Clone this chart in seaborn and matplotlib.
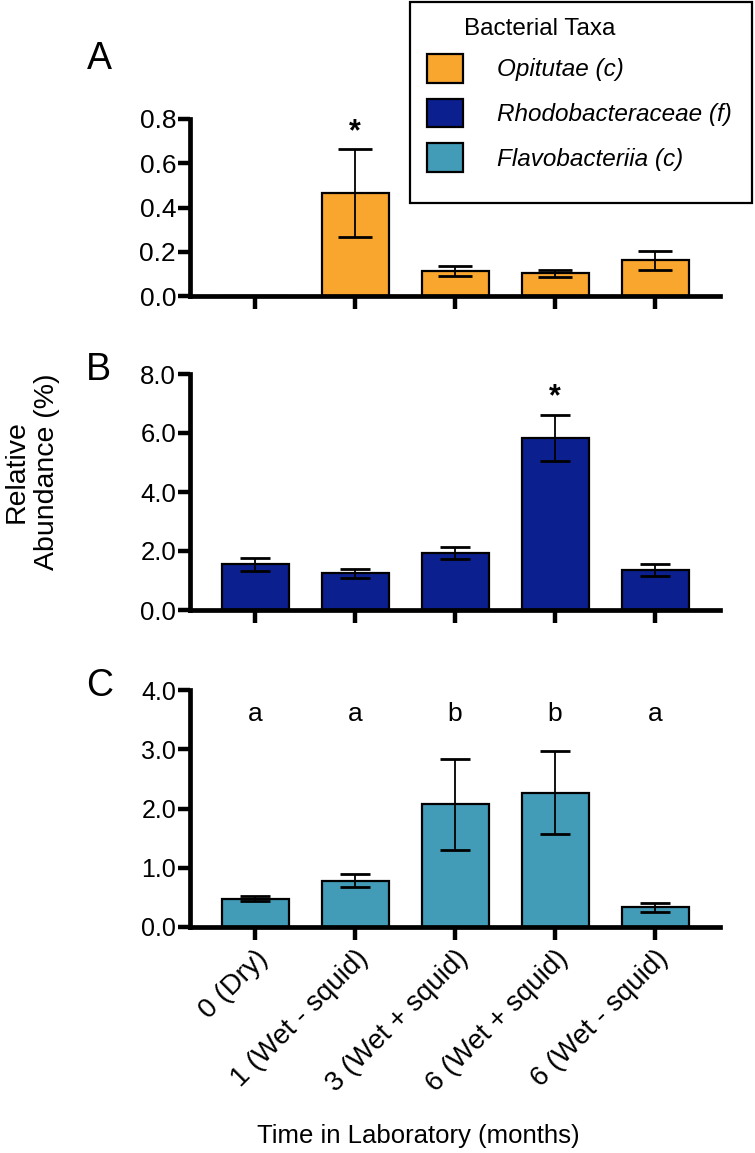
import matplotlib
matplotlib.use("Agg")
import numpy as np
import pandas as pd
import seaborn as sns
import matplotlib.pyplot as plt
from matplotlib.patches import Patch, Rectangle
from matplotlib.ticker import FormatStrFormatter
import matplotlib.transforms as mtransforms

sns.set_theme(style="ticks")
plt.rcParams["font.family"] = ["Liberation Sans", "DejaVu Sans"]
plt.rcParams["text.color"] = "black"
plt.rcParams["axes.labelcolor"] = "black"
plt.rcParams["xtick.color"] = "black"
plt.rcParams["ytick.color"] = "black"

# ---------------- data ----------------
categories = ["0 (Dry)", "1 (Wet - squid)", "3 (Wet + squid)", "6 (Wet + squid)", "6 (Wet - squid)"]

taxa = ["Opitutae (c)", "Rhodobacteraceae (f)", "Flavobacteriia (c)"]
taxa_colors = ["#F9A62F", "#0B1F8E", "#429CB8"]

opitutae_mean = [0.0, 0.465, 0.114, 0.102, 0.162]
opitutae_se = [0.0, 0.198, 0.022, 0.017, 0.043]

rhodo_mean = [1.55, 1.24, 1.92, 5.82, 1.36]
rhodo_se = [0.22, 0.14, 0.20, 0.78, 0.20]

flavo_mean = [0.48, 0.78, 2.07, 2.27, 0.33]
flavo_se = [0.04, 0.11, 0.77, 0.70, 0.07]

a_ticks = [0.0, 0.2, 0.4, 0.6, 0.8]
b_ticks = [0.0, 2.0, 4.0, 6.0, 8.0]
c_ticks = [0.0, 1.0, 2.0, 3.0, 4.0]

star_a = (1, 0.74)
star_b = (3, 7.2)
c_letters = ["a", "a", "b", "b", "a"]
c_letter_y = 3.6

# ---------------- figure ----------------
W, H = 755, 1153
fig = plt.figure(figsize=(W / 100, H / 100), dpi=100)


def px_axes(left, right, top, bottom):
    return fig.add_axes([left / W, 1 - bottom / H, (right - left) / W, (bottom - top) / H])


axA = px_axes(190, 720, 119, 296)
axB = px_axes(190, 720, 374, 610)
axC = px_axes(190, 720, 690, 927)

panels = [
    (axA, opitutae_mean, opitutae_se, taxa_colors[0], a_ticks, 12, 19),
    (axB, rhodo_mean, rhodo_se, taxa_colors[1], b_ticks, 11, 18.5),
    (axC, flavo_mean, flavo_se, taxa_colors[2], c_ticks, 11, 18),
]

for ax, mean, se, col, ticks, cap, fs in panels:
    df = pd.DataFrame({"time": categories, "value": mean})
    sns.barplot(data=df, x="time", y="value", color=col, saturation=1,
                width=0.67, edgecolor="black", linewidth=1.6, errorbar=None, ax=ax)
    m = np.array(mean)
    s = np.array(se)
    idx = np.where(s > 0)[0]
    ax.errorbar(idx, m[idx], yerr=s[idx], fmt="none", ecolor="black",
                elinewidth=1.3, capsize=cap, capthick=2.0, zorder=5)
    ax.set_ylim(ticks[0], ticks[-1])
    ax.set_yticks(ticks)
    ax.yaxis.set_major_formatter(FormatStrFormatter("%.1f"))
    ax.set_xlim(-0.65, 4.65)
    sns.despine(ax=ax)
    for sp in ["left", "bottom"]:
        ax.spines[sp].set_linewidth(3.4)
        ax.spines[sp].set_color("black")
    ax.tick_params(axis="both", width=3.2, length=9, labelsize=fs, pad=1,
                   direction="out", color="black", labelcolor="black")
    ax.set_xlabel("")
    ax.set_ylabel("")
    ax.set_facecolor("white")

axA.set_xticklabels([])
axB.set_xticklabels([])

# rotated category labels on the bottom panel
axC.set_xticks(range(len(categories)))
axC.set_xticklabels(categories, rotation=45, ha="right", rotation_mode="anchor", fontsize=20)
offset = mtransforms.ScaledTranslation(16 / 100, -10 / 100, fig.dpi_scale_trans)
for lab in axC.get_xticklabels():
    lab.set_transform(lab.get_transform() + offset)
axC.tick_params(axis="x", pad=4)

# significance marks
axA.text(star_a[0], star_a[1], "*", ha="center", va="center", fontsize=22, fontweight="bold")
axB.text(star_b[0], star_b[1], "*", ha="center", va="center", fontsize=22, fontweight="bold")
for i, letter in enumerate(c_letters):
    axC.text(i, c_letter_y, letter, ha="center", va="center", fontsize=19)

# panel letters
for letter, (x, y) in zip(["A", "B", "C"], [(99, 59), (98, 370), (100, 686)]):
    fig.text(x / W, 1 - y / H, letter, ha="center", va="center", fontsize=27)

# shared y label
fig.text(32 / W, 1 - 472 / H, "Relative\nAbundance (%)", rotation=90, ha="center",
         va="center", multialignment="center", fontsize=20.5, linespacing=1.2)

# x label
fig.text(418 / W, 1 - 1136 / H, "Time in Laboratory (months)", ha="center",
         va="center", fontsize=18.5)

# legend
fig.add_artist(Rectangle((410 / W, 1 - 203 / H), 342 / W, 201 / H, transform=fig.transFigure,
                         facecolor="white", edgecolor="black", linewidth=1.6, zorder=1))
fig.text(464 / W, 1 - 29 / H, "Bacterial Taxa", ha="left", va="center", fontsize=17.5, zorder=3)
handles = [Patch(facecolor=c, edgecolor="black", linewidth=1.6) for c in taxa_colors]
leg = fig.legend(handles, taxa, loc="upper left", bbox_to_anchor=(427 / W, 1 - 54 / H),
                 frameon=False, borderpad=0, borderaxespad=0, handlelength=1.48,
                 handleheight=1.44, handletextpad=1.4, labelspacing=0.66,
                 prop={"size": 17.5, "style": "italic"})
leg.set_zorder(4)

fig.savefig("out.png", dpi=100, facecolor="white")
